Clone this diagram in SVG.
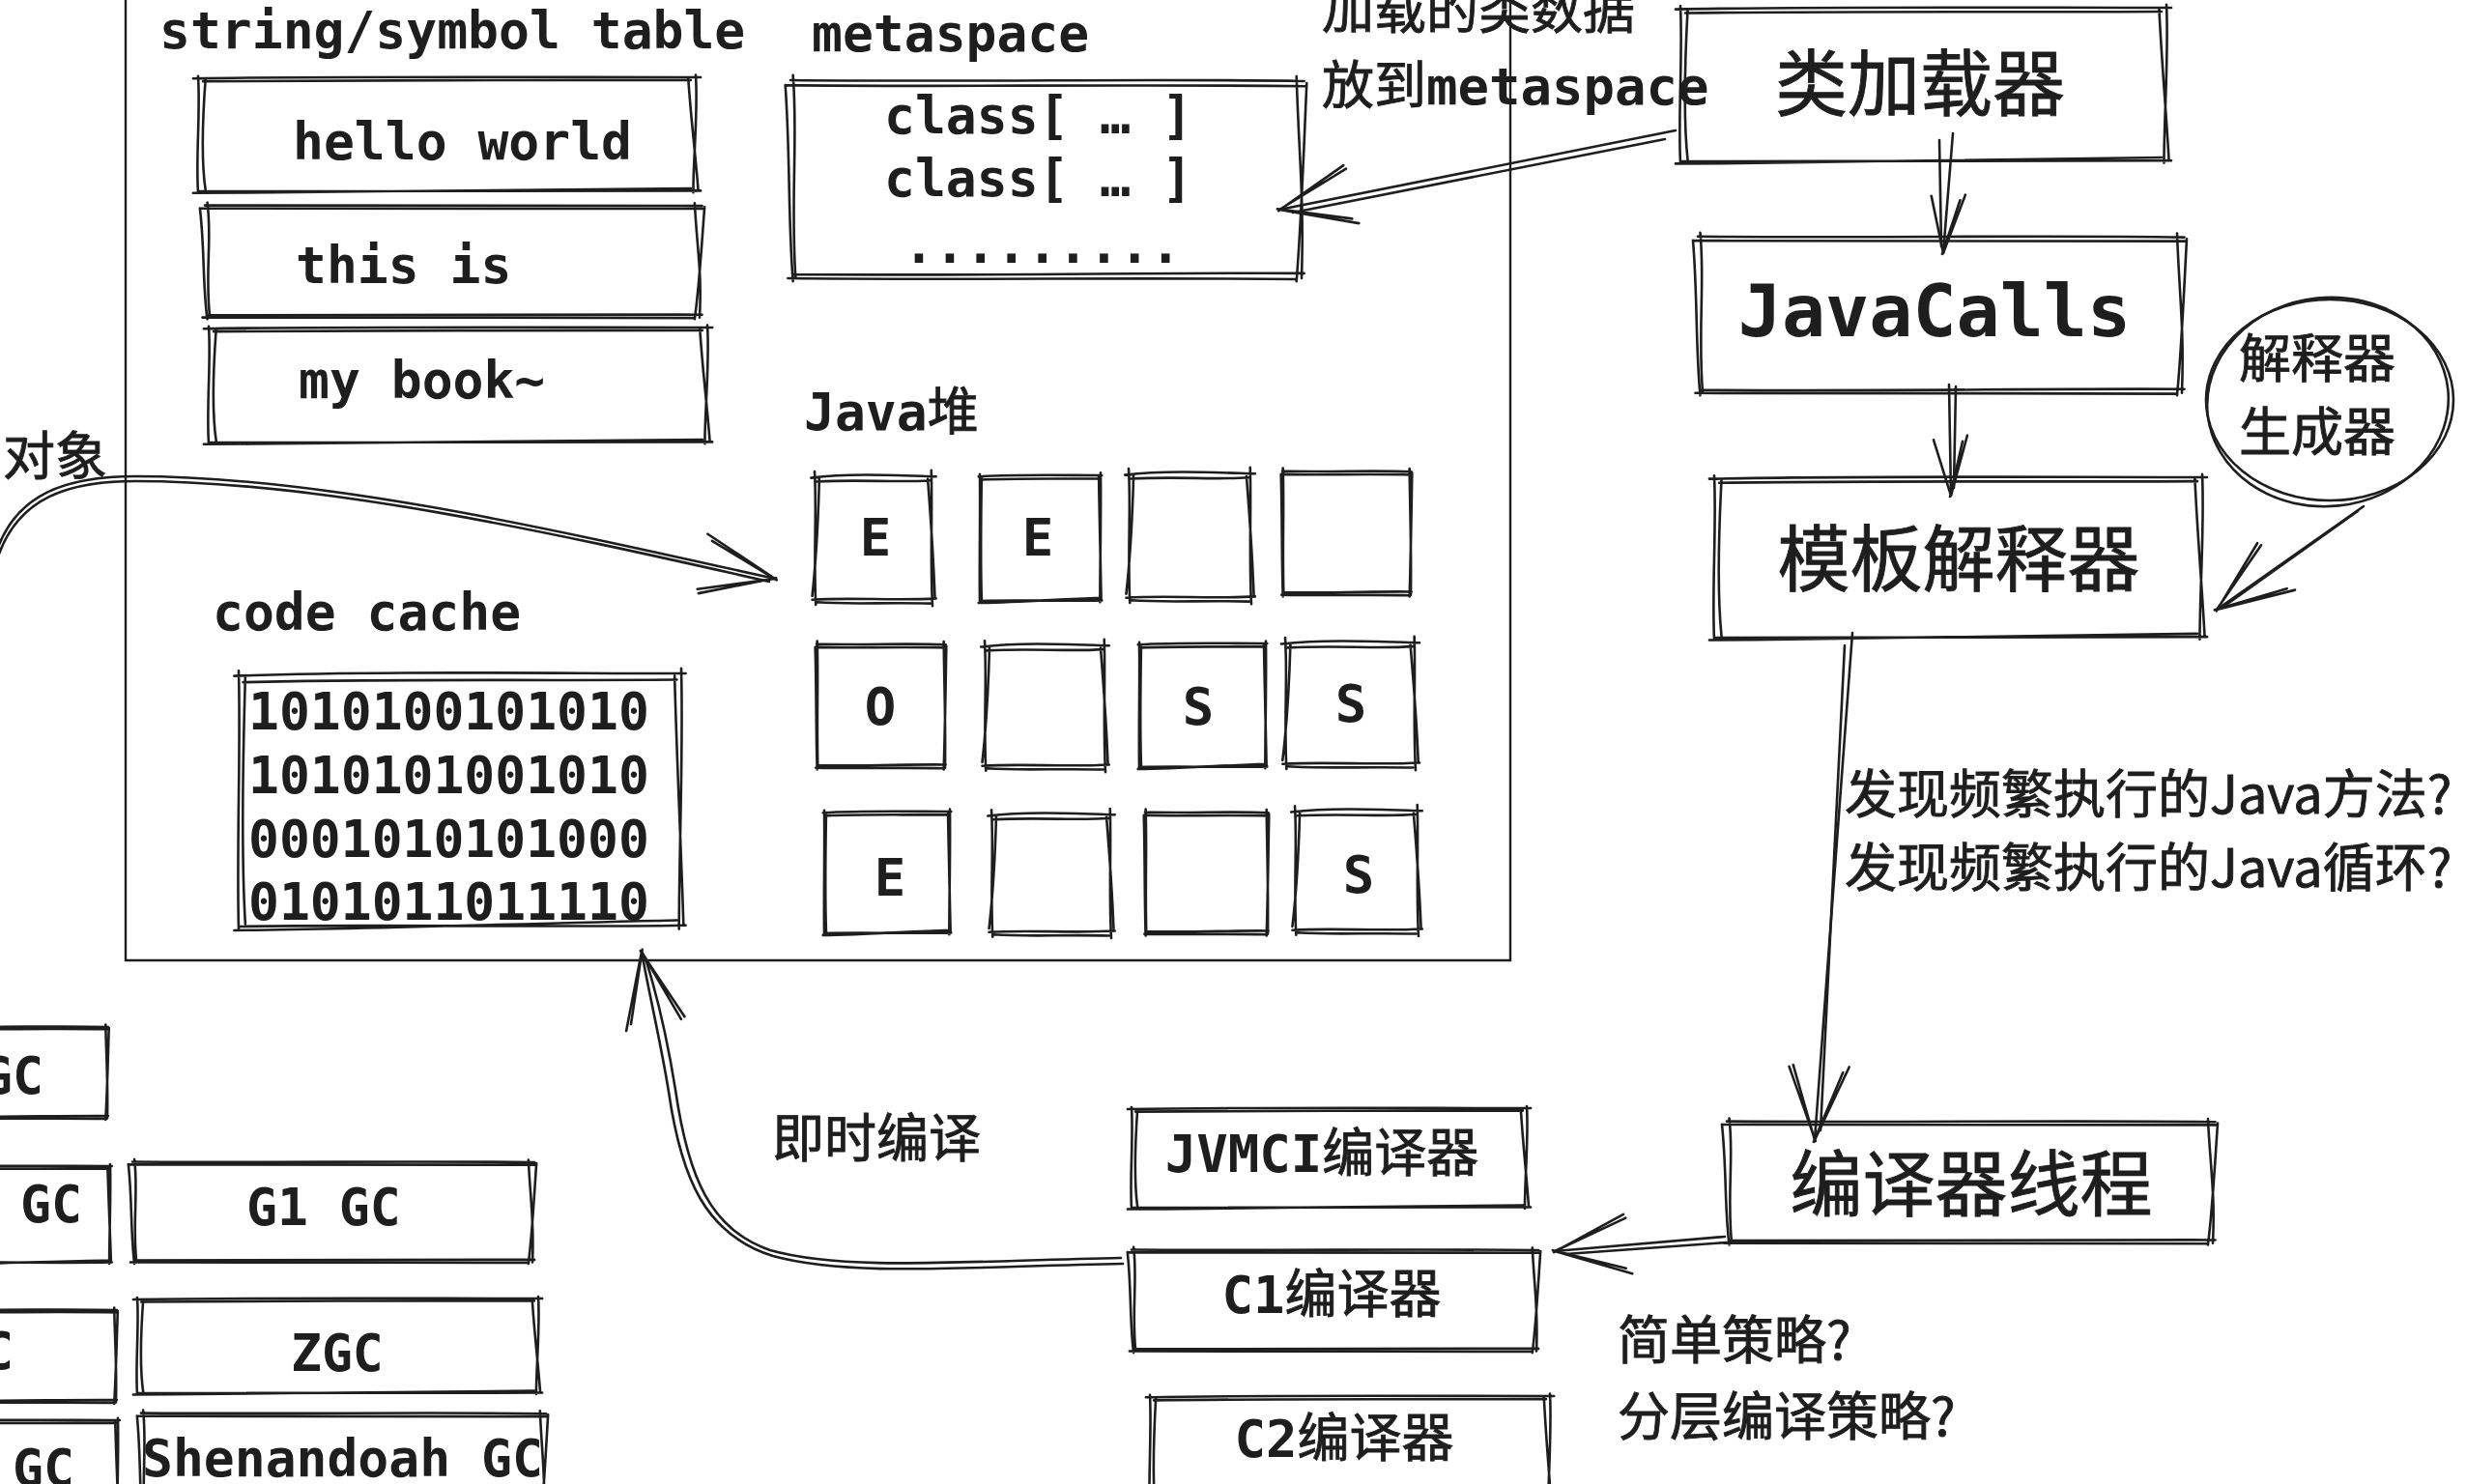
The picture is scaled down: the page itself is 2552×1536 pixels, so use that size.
<svg xmlns="http://www.w3.org/2000/svg" xmlns:xlink="http://www.w3.org/1999/xlink" width="2552" height="1536" viewBox="0 0 2552 1536">
<style>
  .sk { fill:none; stroke:#1e1e1e; stroke-width:2.6; stroke-linecap:round; stroke-linejoin:round; vector-effect:non-scaling-stroke; }
  .ln { fill:none; stroke:#1e1e1e; stroke-width:2.6; stroke-linecap:round; stroke-linejoin:round; }
  .frame { fill:none; stroke:#1e1e1e; stroke-width:2.4; }
  .m { font-family:"DejaVu Sans Mono","Liberation Mono",monospace; font-weight:bold; fill:#1e1e1e; }
  .c { font-family:"Noto Sans CJK SC","Noto Sans",sans-serif; font-weight:normal; fill:#1e1e1e; stroke:#1e1e1e; stroke-width:0.9; }
  .s53 { font-size:53px; }
  .s54 { font-size:54px; }
  .s75 { font-size:75px; }
</style>
<defs>
  <symbol id="s1" viewBox="0 0 100 100" preserveAspectRatio="none" style="overflow:visible">
    <path class="sk" d="M-1,1 C30,-1 70,0 101,0 M1,3.5 C35,2 65,3 99,2.5 M100,-2 C100.5,30 99.5,70 99.5,101 M98.5,1 C99,35 100,70 100.5,99 M101,99.5 C70,100.5 30,99 0,100 M99,97.5 C60,99 30,101 -1,101.5 M0,101 C-0.5,70 0.5,30 0,-1 M1.5,1 C1,30 0.5,70 1.5,99"/>
  </symbol>
  <symbol id="s2" viewBox="0 0 100 100" preserveAspectRatio="none" style="overflow:visible">
    <path class="sk" d="M0,0.5 C40,1.5 70,-0.5 100.5,1 M-1,3 C30,4 60,2.5 101,3.5 M99,-1.5 C99.5,40 100.5,60 100,100.5 M101,2 C100.5,30 100,70 99,102 M100.5,98 C70,97.5 40,99.5 0.5,98.5 M99,101 C65,100 35,101.5 -0.5,100.5 M1,100 C0,60 1.5,30 0.5,-2 M-1,3 C0,40 -0.5,70 0.5,102"/>
  </symbol>
  <symbol id="s3" viewBox="0 0 100 100" preserveAspectRatio="none" style="overflow:visible">
    <path class="sk" d="M-3,2 C30,-2 70,0 103,1 M2,5 C40,3 70,6 98,4 M99,-4 C100,30 98,70 100,104 M96,3 C99,40 101,70 102,97 M103,98 C70,100 30,97 -2,99 M98,102 C60,101 30,103 2,101 M1,103 C-1,60 2,30 0,-3 M4,2 C3,40 1,70 -2,96"/>
  </symbol>
  <marker id="ah" markerUnits="userSpaceOnUse" orient="auto" markerWidth="1" markerHeight="1" refX="0" refY="0" style="overflow:visible">
    <path class="ln" d="M-78,-30 L0,0 L-76,28 M-72,-24 L2,1 M-74,32 L1,-1"/>
  </marker>
  <marker id="ah2" markerUnits="userSpaceOnUse" orient="auto" markerWidth="1" markerHeight="1" refX="0" refY="0" style="overflow:visible">
    <path class="ln" d="M-62,-18 L0,0 L-58,17 M-56,-13 L1,1"/>
  </marker>
</defs>
<rect x="0" y="0" width="2552" height="1536" fill="#ffffff"/>

<g id="runtime-area">
  <path class="frame" d="M130,-10 L130,994 L1563,994 L1563,-10"/>
</g>

<g id="string-table">
  <text class="m s53" x="165" y="50">string/symbol table</text>
  <g id="str-hello"><use href="#s1" x="205" y="80" width="515" height="118"/><text class="m s53" x="303" y="165">hello world</text></g>
  <g id="str-this"><use href="#s2" x="212" y="212" width="512" height="116"/><text class="m s53" x="306" y="293">this is</text></g>
  <g id="str-book"><use href="#s1" x="216" y="339" width="516" height="119"/><text class="m s53" x="309" y="412">my book~</text></g>
</g>

<g id="metaspace">
  <text class="m s53" x="840" y="53">metaspace</text>
  <use href="#s2" x="818" y="82" width="529" height="205"/>
  <text class="m s53" x="915" y="138">class[ … ]</text>
  <text class="m s53" x="915" y="203">class[ … ]</text>
  <text class="m s53" x="935" y="272">.........</text>
</g>

<g id="java-heap">
  <text class="m s53" x="832" y="445">Java<tspan class="c">堆</tspan></text>
  <g id="h11"><use href="#s3" x="843" y="492" width="122" height="130"/><text class="m s54" x="906" y="575" text-anchor="middle">E</text></g>
  <g id="h12"><use href="#s1" x="1014" y="492" width="125" height="130"/><text class="m s54" x="1074" y="575" text-anchor="middle">E</text></g>
  <g id="h13"><use href="#s3" x="1168" y="489" width="127" height="131"/></g>
  <g id="h14"><use href="#s2" x="1327" y="487" width="133" height="128"/></g>
  <g id="h21"><use href="#s2" x="845" y="666" width="133" height="128"/><text class="m s54" x="911" y="750" text-anchor="middle">O</text></g>
  <g id="h22"><use href="#s3" x="1019" y="667" width="125" height="127"/></g>
  <g id="h23"><use href="#s1" x="1179" y="666" width="131" height="128"/><text class="m s54" x="1240" y="750" text-anchor="middle">S</text></g>
  <g id="h24"><use href="#s3" x="1330" y="664" width="135" height="128"/><text class="m s54" x="1398" y="747" text-anchor="middle">S</text></g>
  <g id="h31"><use href="#s1" x="853" y="840" width="130" height="126"/><text class="m s54" x="921" y="927" text-anchor="middle">E</text></g>
  <g id="h32"><use href="#s3" x="1026" y="842" width="124" height="124"/></g>
  <g id="h33"><use href="#s2" x="1185" y="840" width="127" height="126"/></g>
  <g id="h34"><use href="#s3" x="1340" y="838" width="128" height="126"/><text class="m s54" x="1406" y="924" text-anchor="middle">S</text></g>
</g>

<g id="code-cache">
  <text class="m s53" x="220" y="652">code cache</text>
  <use href="#s1" x="247" y="697" width="458" height="262"/>
  <text class="m s53" x="257" y="755">1010100101010</text>
  <text class="m s53" x="257" y="821">1010101001010</text>
  <text class="m s53" x="257" y="887">0001010101000</text>
  <text class="m s53" x="257" y="952">0101011011110</text>
</g>

<g id="label-object"><text class="c s54" x="3" y="492">对象</text></g>
<g id="label-load">
  <text class="c s54" x="1368" y="30">加载的类数据</text>
  <text class="c s54" x="1368" y="108">放到<tspan class="m" style="stroke:none">metaspace</tspan></text>
</g>

<g id="classloader"><use href="#s1" x="1739" y="8" width="503" height="159"/><text class="c s75" x="1987" y="114" text-anchor="middle">类加载器</text></g>
<g id="javacalls"><use href="#s2" x="1757" y="244" width="501" height="162"/><text class="m s75" x="2002" y="348" text-anchor="middle">JavaCalls</text></g>
<g id="template-interpreter"><use href="#s1" x="1774" y="494" width="505" height="166"/><text class="c s75" x="2027" y="606" text-anchor="middle">模板解释器</text></g>
<g id="interp-generator">
  <ellipse class="ln" cx="2411" cy="414" rx="128" ry="104"/>
  <ellipse class="ln" cx="2409" cy="416" rx="125" ry="108" transform="rotate(-6 2409 416)"/>
  <text class="c s54" x="2398" y="391" text-anchor="middle">解释器</text>
  <text class="c s54" x="2398" y="467" text-anchor="middle">生成器</text>
</g>
<g id="label-hot">
  <text class="c s54" x="1909" y="842">发现频繁执行的Java方法?</text>
  <text class="c s54" x="1909" y="918">发现频繁执行的Java循环?</text>
</g>
<g id="compiler-thread"><use href="#s2" x="1787" y="1160" width="503" height="126"/><text class="c s75" x="2040" y="1253" text-anchor="middle">编译器线程</text></g>
<g id="jvmci"><use href="#s1" x="1171" y="1147" width="409" height="103"/><text class="m s54" x="1368" y="1213" text-anchor="middle">JVMCI<tspan class="c">编译器</tspan></text></g>
<g id="c1"><use href="#s2" x="1171" y="1293" width="419" height="105"/><text class="m s54" x="1378" y="1359" text-anchor="middle">C1<tspan class="c">编译器</tspan></text></g>
<g id="c2"><use href="#s1" x="1190" y="1445" width="414" height="125"/><text class="m s54" x="1391" y="1508" text-anchor="middle">C2<tspan class="c">编译器</tspan></text></g>
<g id="label-policy">
  <text class="c s54" x="1674" y="1407">简单策略?</text>
  <text class="c s54" x="1674" y="1486">分层编译策略?</text>
</g>
<g id="label-jit"><text class="c s54" x="799" y="1198">即时编译</text></g>

<g id="gc">
  <g id="gc1"><use href="#s2" x="-60" y="1062" width="171" height="95"/><text class="m s53" x="-19" y="1132">GC</text></g>
  <g id="gc2"><use href="#s1" x="-60" y="1207" width="174" height="100"/><text class="m s53" x="21" y="1265">GC</text></g>
  <g id="gc3"><use href="#s2" x="-60" y="1355" width="180" height="96"/><text class="m s53" x="-18" y="1417">C</text></g>
  <g id="gc4"><use href="#s1" x="-60" y="1470" width="182" height="110"/><text class="m s53" x="13" y="1538">GC</text></g>
  <g id="g1gc"><use href="#s2" x="137" y="1202" width="414" height="104"/><text class="m s53" x="255" y="1268">G1 GC</text></g>
  <g id="zgc"><use href="#s1" x="142" y="1344" width="415" height="98"/><text class="m s53" x="301" y="1419">ZGC</text></g>
  <g id="shenandoah"><use href="#s2" x="146" y="1462" width="417" height="118"/><text class="m s53" x="147" y="1528">Shenandoah GC</text></g>
</g>

<g id="connectors">
  <path class="ln" d="M-5,575 C15,510 70,493 140,493 C330,493 560,545 802,599" marker-end="url(#ah)"/>
  <path class="ln" d="M-3,579 C18,514 72,498 140,498 C330,498 562,549 796,602"/>
  <path class="ln" d="M1734,135 L1324,217" marker-end="url(#ah)"/>
  <path class="ln" d="M1723,144 L1338,220"/>
  <path class="ln" d="M2021,138 L2011,262" marker-end="url(#ah2)"/>
  <path class="ln" d="M2007,145 L2009,255"/>
  <path class="ln" d="M2017,398 L2019,513" marker-end="url(#ah2)"/>
  <path class="ln" d="M2024,400 L2022,505"/>
  <path class="ln" d="M1917,655 L1878,1180" marker-end="url(#ah)"/>
  <path class="ln" d="M1909,668 L1884,1170"/>
  <path class="ln" d="M2446,524 L2294,631" marker-end="url(#ah)"/>
  <path class="ln" d="M2440,529 L2301,628"/>
  <path class="ln" d="M1785,1280 L1609,1295" marker-end="url(#ah)"/>
  <path class="ln" d="M1787,1286 L1620,1298"/>
  <path class="ln" d="M1162,1308 C1000,1311 880,1322 800,1300 C730,1278 705,1220 692,1130 C684,1080 672,1030 664,985" marker-end="url(#ah)"/>
  <path class="ln" d="M1160,1302 C1000,1305 875,1316 797,1294 C735,1273 712,1218 699,1128 C691,1078 680,1030 668,992"/>
</g>
</svg>
